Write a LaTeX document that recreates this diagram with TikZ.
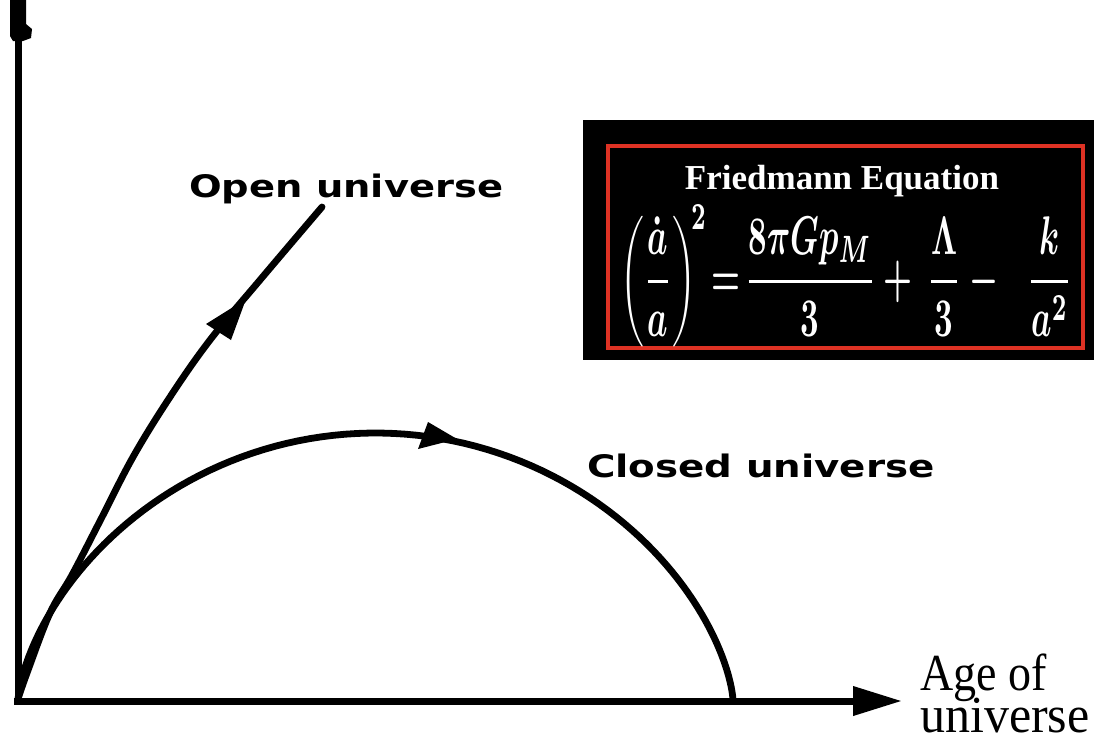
\documentclass[tikz,border=0pt]{standalone}
\usepackage{graphicx}
\usepackage{fontspec}
\usepackage{amsmath}
\usetikzlibrary{arrows.meta}
\newfontfamily\labelfont{DejaVu Sans}
\newfontfamily\timesfont{Liberation Serif}
\tikzset{
  axisline/.style={line width=7pt, black},
  curveline/.style={line width=6.8pt, black, line join=round, line cap=round},
  curvelabel/.style={inner sep=0pt, anchor=base west, font=\labelfont\bfseries\fontsize{31}{31}\selectfont},
  axislabel/.style={inner sep=0pt, anchor=base west, font=\timesfont\fontsize{50}{50}\selectfont},
}
\begin{document}
\begin{tikzpicture}[x=1pt,y=-1pt]
\useasboundingbox (0,0) rectangle (1094,740);
\clip (0,0) rectangle (1094,740);
\fill[white] (0,0) rectangle (1094,740);

% axes
\coordinate (O) at (18,701);
\coordinate (xend) at (902,701);
\coordinate (ytop) at (18,30);
\draw[axisline, -{Triangle[length=49pt,width=28pt]}] ([xshift=-4pt]O) -- (xend);
\draw[axisline] ([yshift=3pt]O) -- (ytop);
\fill[black] (10,0) -- (26,0) -- (26,24) -- (32,29) -- (31,38) -- (23,41) -- (13,41) -- (10,36) -- cycle;

% open universe
\draw[curveline] plot[smooth, tension=0.6] coordinates {
  (18,699) (27,673) (50,613) (72,575) (100,521) (133,457) (170,397)
  (210,340) (260,280) (322,207)};
\fill[black] (246,299) -- (206,324) -- (231,340) -- cycle;

% closed universe (cycloid)
\draw[curveline] plot[domain=0:6.2832, samples=120, variable=\t]
  ({18+113.8*(\t - sin(\t r))}, {701-134*(1-cos(\t r))});
\fill[black] (457,439) -- (418,449) -- (428,422) -- cycle;

% labels
\node[curvelabel] (openlbl) at (189,197) {\scalebox{1.24}[1]{Open universe}};
\node[curvelabel] (closedlbl) at (587,477) {\scalebox{1.25}[1]{Closed universe}};
\node[axislabel] (age1) at (920,690) {\scalebox{0.92}[1.04]{Age of}};
\node[axislabel] (age2) at (920,732) {\scalebox{1}[1.04]{universe}};

% equation box
\fill[black] (583,120) rectangle (1094,360);
\draw[line width=4pt, draw={rgb,255:red,222;green,50;blue,36}] (608,146) rectangle (1083,348);
\node[white, inner sep=0pt, anchor=base, font=\timesfont\bfseries\fontsize{35}{35}\selectfont] (title) at (842,189) {Friedmann Equation};
\node[white, inner sep=0pt] (eq) at (846,276) {\resizebox{452pt}{90pt}{\boldmath$\displaystyle \left(\frac{\dot a}{a}\right)^{\!2}\!=\!\frac{8\pi G p_M}{3} + \,\frac{\Lambda}{3} -\;\; \frac{k}{a^{2}}$}};
\end{tikzpicture}
\end{document}
